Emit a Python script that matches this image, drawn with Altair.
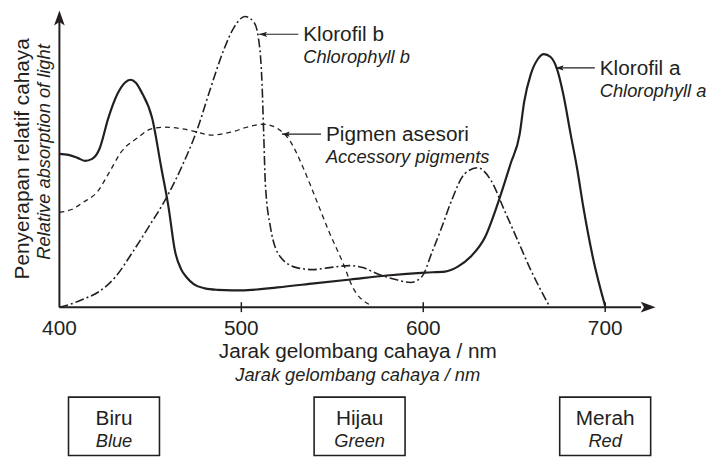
import altair as alt
import pandas as pd

# ---------------- data (wavelength nm, relative absorption) -------------
chl_a_nm = [400, 405, 410, 414, 418, 422, 427, 432, 436, 439, 442, 445, 451, 456, 460, 463.5,
            467, 470, 474, 480, 487, 495, 500, 520, 540, 560, 580, 601, 612, 619, 626, 634,
            641, 648, 653, 655.5, 659, 663, 666.3, 670, 673.5, 677, 681, 684.5, 688, 693.5, 700]
chl_a_abs = [155, 154, 151, 148, 150, 160, 192, 216, 227, 230, 227, 218, 191, 141, 101, 57,
             38, 30, 23, 19, 17.5, 17, 17, 20, 24, 28, 32, 35, 36, 41, 51, 71,
             105, 145, 175, 208, 235, 251, 256, 253, 241, 215, 175, 141, 101, 48, 1]

chl_b_nm = [400, 406, 413, 422, 431, 440, 449, 458, 467, 476, 483, 490.5, 496, 502, 507,
            509.5, 511.4, 512.3, 513.2, 516, 521.4, 530.4, 539.5, 548.5, 559.4, 566.7, 575.7,
            584.8, 593, 599.3, 604.7, 610.2, 615.6, 622.8, 630, 637.3, 644.6, 651.8, 659, 669]
chl_b_abs = [0, 3, 8, 16, 31, 55, 81, 108, 141, 181, 221, 261, 283, 294, 288,
             271, 225, 175, 125, 81, 51, 40, 38, 40, 42, 40, 33,
             28, 25, 31, 55, 81, 108, 135, 141, 128, 98, 68, 38, 2]

acc_nm = [400, 407, 413, 421, 427, 434, 443.5, 450, 458, 468.8, 476, 483.3, 494.2, 505,
          512.3, 519.6, 526.8, 534, 541.3, 548.5, 555.8, 561, 571]
acc_abs = [96, 99, 106, 117, 135, 157, 172, 180, 182, 180, 177, 174, 177, 183,
           185, 181, 168, 141, 108, 75, 45, 21, 2]

x_ticks = [400, 500, 600, 700]

ann_main = ["Klorofil b", "Pigmen asesori", "Klorofil a"]
ann_italic = ["Chlorophyll b", "Accessory pigments", "Chlorophyll a"]
ann_tip_nm = [509.8, 522.3, 672.8]      # where each arrow touches its curve
ann_tip_val = [276, 175, 242]

band_main = ["Biru", "Hijau", "Merah"]
band_italic = ["Blue", "Green", "Red"]
band_center_nm = [430, 565, 700]

x_title = "Jarak gelombang cahaya / nm"
x_title_italic = "Jarak gelombang cahaya / nm"
y_title = "Penyerapan relatif cahaya"
y_title_italic = "Relative absorption of light"

# ---------------- styling / layout ----------------
INK = "#231f20"
FONT = "Liberation Sans"
FS_MAIN = 21
FS_IT = 18.5
X_MIN, X_MAX = 400, 727.7
Y_MAX = 300

xs = alt.Scale(domain=[X_MIN, X_MAX], nice=False, zero=False)
ys = alt.Scale(domain=[0, Y_MAX], nice=False, zero=False)


def X(field="x"):
    return alt.X(f"{field}:Q", scale=xs, axis=None)


def Y(field="y"):
    return alt.Y(f"{field}:Q", scale=ys, axis=None)


def curve(nm, vals, **mark):
    df = pd.DataFrame({"x": nm, "y": vals})
    return alt.Chart(df).mark_line(interpolate="monotone", color=INK, **mark).encode(x=X(), y=Y())


def text_layer(df, size, italic=False, **kw):
    params = dict(font=FONT, fontSize=size, color=INK)
    if italic:
        params["fontStyle"] = "italic"
    params.update(kw)
    return alt.Chart(df).mark_text(**params).encode(x=X(), y=Y(), text="t:N")


layers = []

# curves
layers.append(curve(acc_nm, acc_abs, strokeWidth=1.3, strokeDash=[5, 4]))
layers.append(curve(chl_b_nm, chl_b_abs, strokeWidth=1.6, strokeDash=[9, 3, 2, 3]))
layers.append(curve(chl_a_nm, chl_a_abs, strokeWidth=2.2))

# axis lines
axis_df = pd.DataFrame({"x": [X_MIN, X_MIN], "x2": [X_MAX - 8, X_MIN], "y": [0, 0], "y2": [0, Y_MAX - 8]})
layers.append(alt.Chart(axis_df).mark_rule(color=INK, strokeWidth=2).encode(
    x=X(), x2="x2:Q", y=Y(), y2="y2:Q"))

# axis arrowheads
arrow_x = pd.DataFrame({"x": [X_MAX], "y": [0]})
layers.append(alt.Chart(arrow_x).mark_point(
    shape="M0,0L-1,-0.36L-0.78,0L-1,0.36Z", size=900, filled=True, color=INK, opacity=1,
    strokeWidth=0).encode(x=X(), y=Y()))
arrow_y = pd.DataFrame({"x": [X_MIN], "y": [Y_MAX]})
layers.append(alt.Chart(arrow_y).mark_point(
    shape="M0,0L-0.36,1L0,0.78L0.36,1Z", size=900, filled=True, color=INK, opacity=1,
    strokeWidth=0).encode(x=X(), y=Y()))

# ticks + tick labels
tick_df = pd.DataFrame({"x": x_ticks[1:], "y": [5] * 3, "y2": [-5] * 3})
layers.append(alt.Chart(tick_df).mark_rule(color=INK, strokeWidth=1.5).encode(x=X(), y=Y(), y2="y2:Q"))
tl_df = pd.DataFrame({"x": x_ticks, "y": [-28] * 4, "t": [str(v) for v in x_ticks]})
layers.append(text_layer(tl_df, FS_MAIN, align="center", baseline="alphabetic"))

# x-axis titles
mid = 564
layers.append(text_layer(pd.DataFrame({"x": [mid], "y": [-51], "t": [x_title]}), FS_MAIN,
                         align="center", baseline="alphabetic"))
layers.append(text_layer(pd.DataFrame({"x": [mid], "y": [-75], "t": [x_title_italic]}), FS_IT,
                         italic=True, align="center", baseline="alphabetic"))

# y-axis titles (rotated)
layers.append(text_layer(pd.DataFrame({"x": [383.2], "y": [150], "t": [y_title]}), FS_MAIN,
                         angle=270, align="center", baseline="alphabetic"))
layers.append(text_layer(pd.DataFrame({"x": [394.6], "y": [157], "t": [y_title_italic]}), FS_IT,
                         italic=True, angle=270, align="center", baseline="alphabetic"))

# annotation arrows
line_len_nm = 21.5
ann_df = pd.DataFrame({
    "x": ann_tip_nm, "y": ann_tip_val,
    "x2": [v + line_len_nm for v in ann_tip_nm],
})
layers.append(alt.Chart(ann_df).mark_rule(color=INK, strokeWidth=1.1).encode(x=X(), x2="x2:Q", y=Y()))
layers.append(alt.Chart(ann_df).mark_point(
    shape="M0,0L1,-0.33L0.8,0L1,0.33Z", size=256, filled=True, color=INK, opacity=1,
    strokeWidth=0).encode(x=X(), y=Y()))
txt_x = [v + line_len_nm + 2.7 for v in ann_tip_nm]
layers.append(text_layer(pd.DataFrame({"x": txt_x, "y": [v - 7 for v in ann_tip_val], "t": ann_main}),
                         FS_MAIN, align="left", baseline="alphabetic"))
layers.append(text_layer(pd.DataFrame({"x": txt_x, "y": [v - 29 for v in ann_tip_val], "t": ann_italic}),
                         FS_IT, italic=True, align="left", baseline="alphabetic"))

# colour band boxes
half = 25
box_df = pd.DataFrame({
    "x": [c - half for c in band_center_nm], "x2": [c + half for c in band_center_nm],
    "y": [-91] * 3, "y2": [-150] * 3,
})
layers.append(alt.Chart(box_df).mark_rect(fillOpacity=0, stroke=INK, strokeWidth=1.6).encode(
    x=X(), x2="x2:Q", y=Y(), y2="y2:Q"))
layers.append(text_layer(pd.DataFrame({"x": band_center_nm, "y": [-119] * 3, "t": band_main}),
                         FS_MAIN, align="center", baseline="alphabetic"))
layers.append(text_layer(pd.DataFrame({"x": band_center_nm, "y": [-141] * 3, "t": band_italic}),
                         FS_IT, italic=True, align="center", baseline="alphabetic"))

chart = alt.layer(*layers).properties(
    width=603, height=300, autosize="none",
    padding={"left": 52, "top": 0, "right": 51, "bottom": 151},
    background="white",
).configure_view(stroke=None)

chart.save("out.html", embed_options={"renderer": "svg", "actions": False})
